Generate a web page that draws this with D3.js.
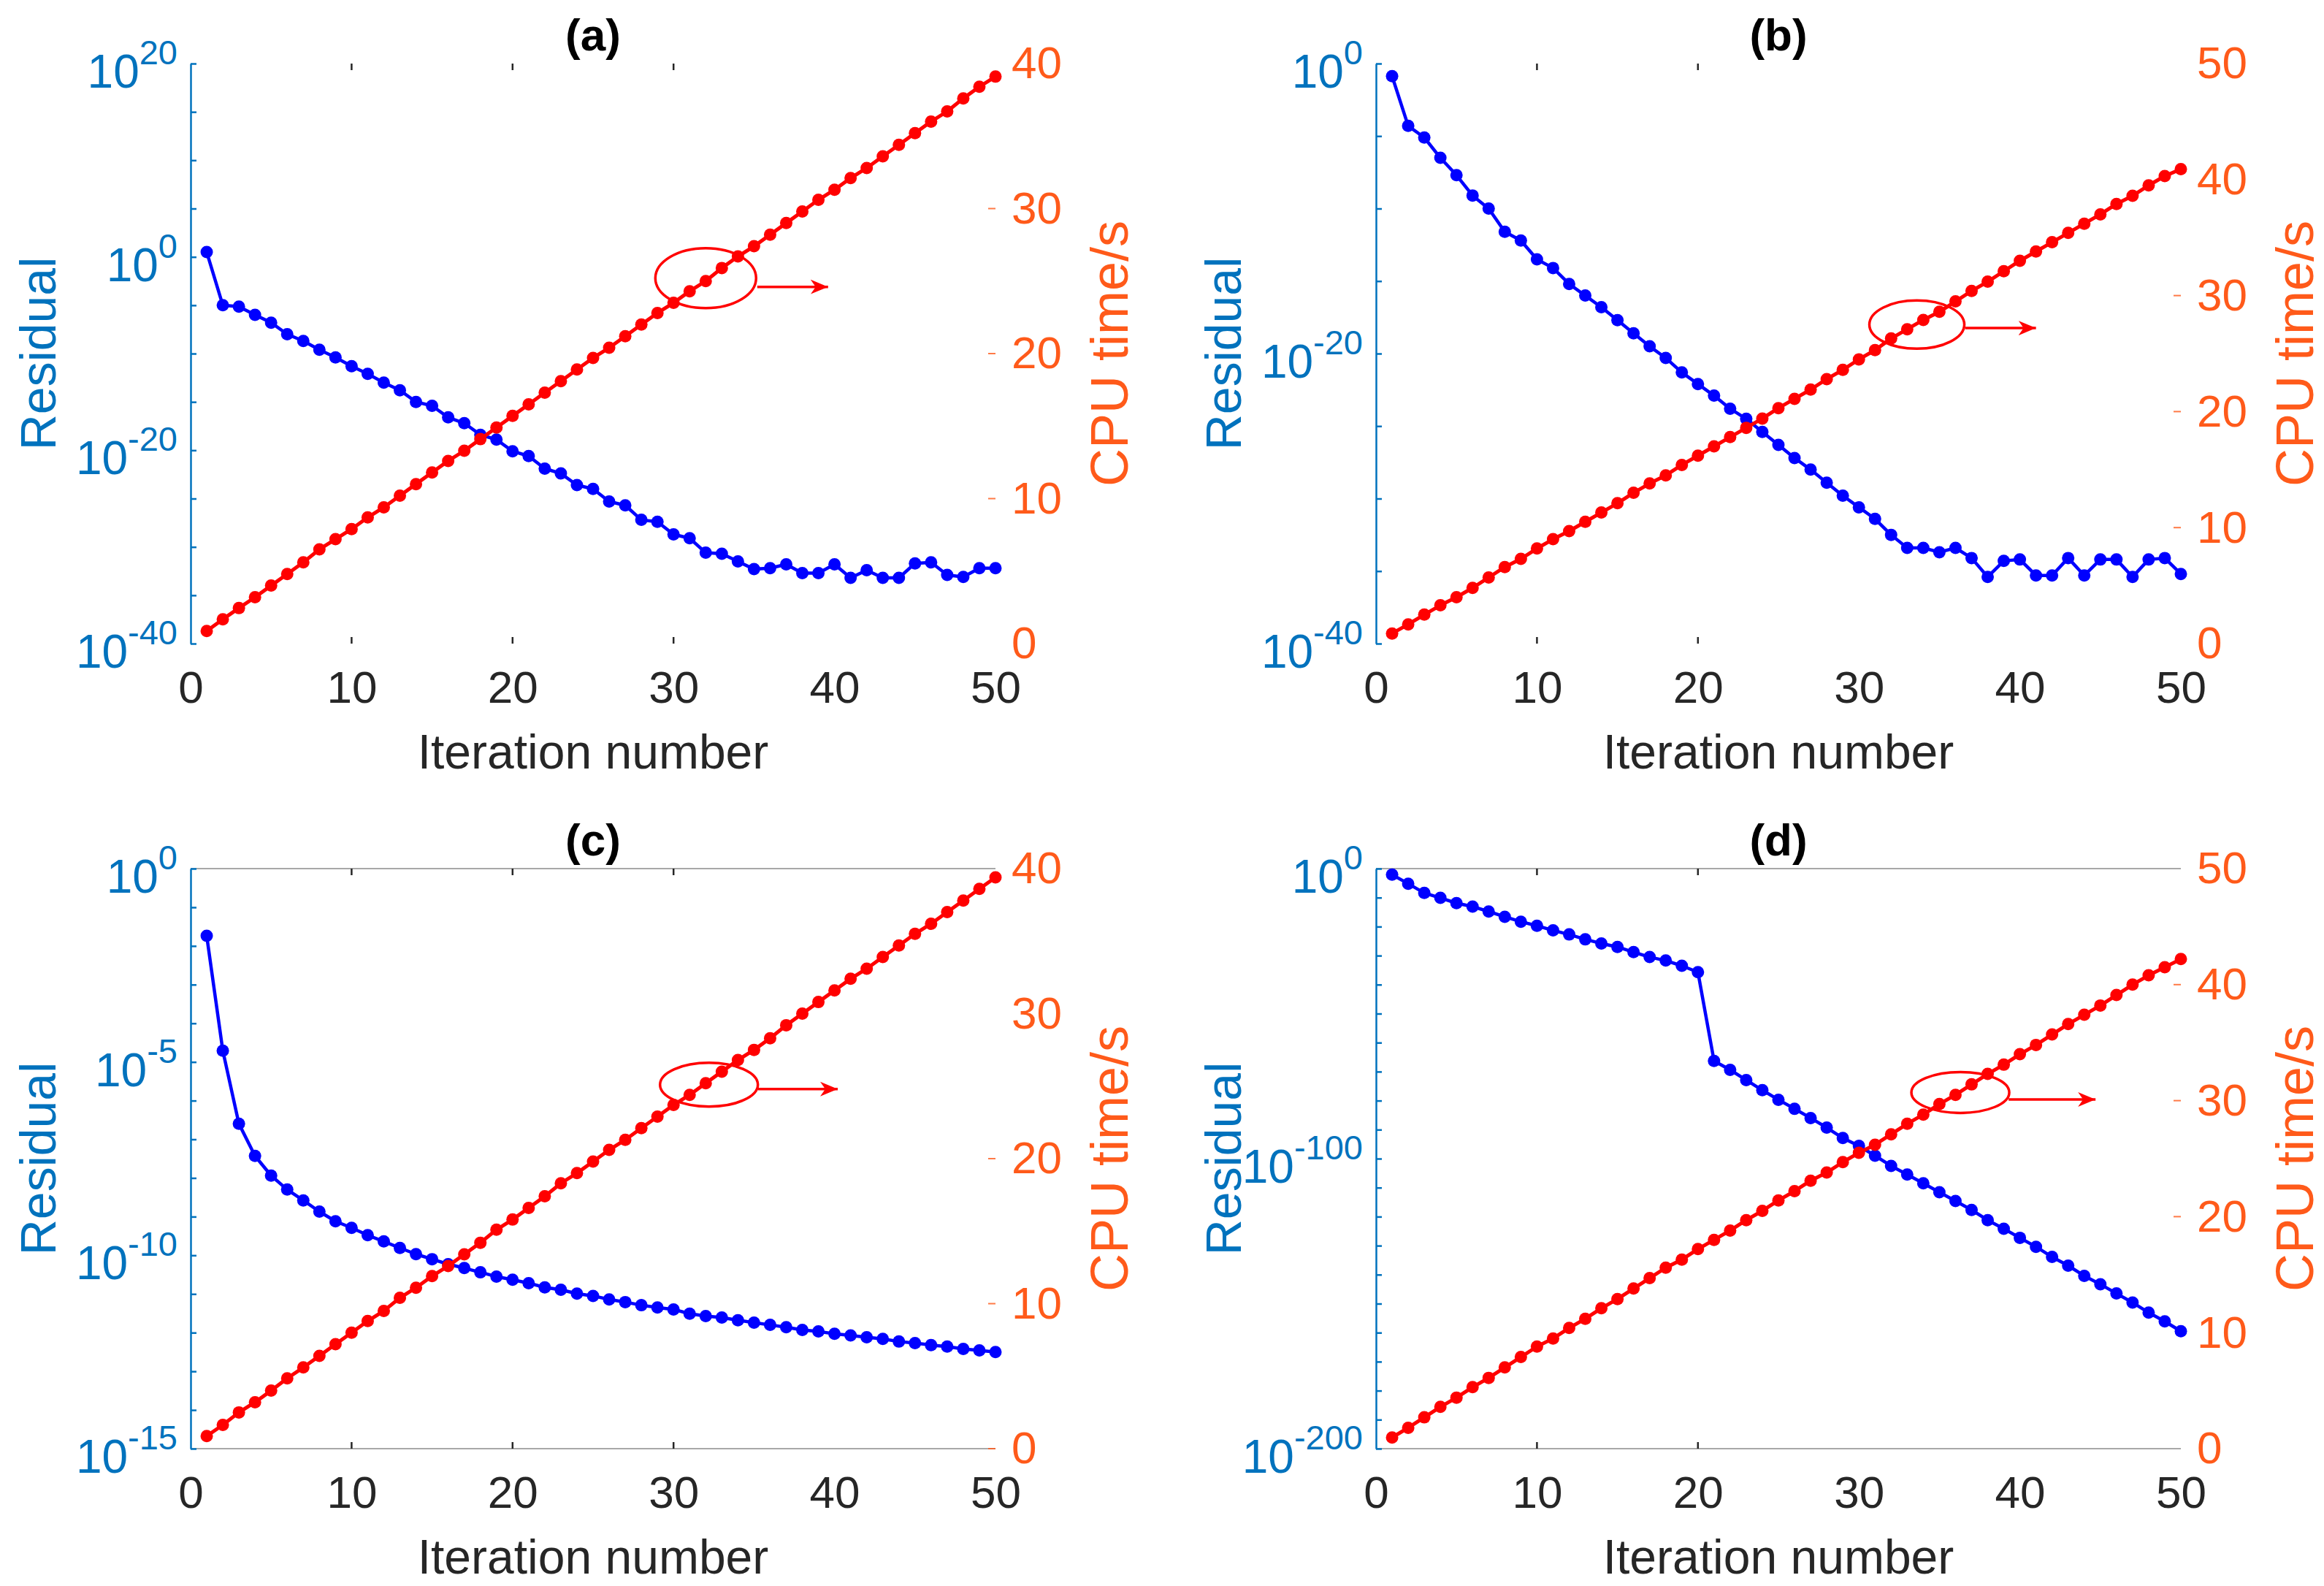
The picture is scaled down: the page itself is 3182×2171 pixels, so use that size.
<!DOCTYPE html>
<html><head><meta charset="utf-8">
<script src="https://cdn.jsdelivr.net/npm/d3@7"></script>
<style>body{margin:0;background:#fff}svg{display:block}text{font-family:"Liberation Sans",Arial,sans-serif}</style>
</head><body>
<svg id="chart" width="3182" height="2171"></svg>
<script>
// ---------------- data ----------------
const iterations = d3.range(1, 51);
const panelTitles = ["(a)", "(b)", "(c)", "(d)"];
const xTickValues = [0, 10, 20, 30, 40, 50];

// residual values, stored as log10 exponents
const residualExpA = [0.5,-5.0,-5.15,-6.0,-6.8,-8.0,-8.7,-9.6,-10.4,-11.3,-12.1,-13.0,-13.8,-15.0,-15.4,-16.6,-17.2,-18.4,-18.9,-20.1,-20.6,-21.9,-22.4,-23.6,-24.0,-25.3,-25.7,-27.2,-27.4,-28.7,-29.1,-30.6,-30.7,-31.5,-32.3,-32.2,-31.8,-32.7,-32.7,-31.8,-33.2,-32.4,-33.2,-33.2,-31.7,-31.6,-32.9,-33.1,-32.2,-32.2];
const residualExpB = [-0.87,-4.3,-5.1,-6.5,-7.7,-9.1,-10.0,-11.6,-12.2,-13.5,-14.1,-15.2,-16.0,-16.8,-17.7,-18.6,-19.5,-20.3,-21.3,-22.1,-22.9,-23.8,-24.5,-25.4,-26.3,-27.2,-28.0,-28.9,-29.8,-30.6,-31.4,-32.5,-33.4,-33.4,-33.7,-33.4,-34.1,-35.4,-34.3,-34.2,-35.3,-35.3,-34.1,-35.3,-34.2,-34.2,-35.4,-34.2,-34.1,-35.2];
const residualExpC = [-1.74,-4.71,-6.60,-7.43,-7.94,-8.30,-8.58,-8.87,-9.12,-9.29,-9.48,-9.64,-9.81,-9.97,-10.10,-10.23,-10.33,-10.44,-10.55,-10.63,-10.72,-10.83,-10.89,-10.99,-11.05,-11.14,-11.21,-11.29,-11.35,-11.40,-11.51,-11.57,-11.61,-11.68,-11.74,-11.80,-11.86,-11.93,-11.97,-12.03,-12.07,-12.12,-12.16,-12.23,-12.27,-12.32,-12.36,-12.42,-12.46,-12.50];
const residualExpD = [-2.1,-5.2,-8.4,-10.1,-11.9,-13.1,-14.8,-16.6,-18.3,-19.7,-21.3,-22.7,-24.4,-25.8,-27.0,-28.8,-30.5,-31.7,-33.5,-35.7,-66.3,-69.4,-72.9,-76.4,-79.7,-82.8,-86.0,-89.3,-92.9,-95.6,-99.0,-102.5,-105.5,-108.5,-111.6,-114.6,-117.7,-121.2,-124.2,-127.3,-130.4,-133.9,-136.9,-140.4,-143.3,-146.5,-149.6,-153.1,-156.1,-159.5];

// CPU time (s)
const cpuA = [0.87,1.68,2.45,3.2,4.0,4.8,5.6,6.5,7.2,7.9,8.7,9.4,10.2,11.0,11.8,12.6,13.3,14.1,14.9,15.7,16.5,17.3,18.1,18.9,19.7,20.4,21.2,22.0,22.8,23.5,24.3,25.0,25.9,26.7,27.4,28.2,29.0,29.8,30.6,31.3,32.1,32.8,33.6,34.4,35.2,36.0,36.7,37.6,38.4,39.1];
const cpuB = [0.87,1.66,2.5,3.3,4.0,4.8,5.7,6.6,7.3,8.2,9.0,9.7,10.5,11.3,12.1,13.0,13.8,14.5,15.4,16.2,17.0,17.8,18.6,19.4,20.3,21.1,21.9,22.8,23.6,24.5,25.3,26.3,27.1,27.9,28.6,29.5,30.4,31.2,32.1,33.0,33.8,34.6,35.4,36.2,37.0,37.9,38.6,39.5,40.3,40.9];
const cpuC = [0.87,1.64,2.5,3.2,4.0,4.85,5.6,6.4,7.2,8.0,8.8,9.5,10.4,11.1,11.9,12.6,13.4,14.2,15.1,15.8,16.6,17.4,18.3,19.0,19.8,20.6,21.3,22.1,22.9,23.7,24.4,25.2,26.0,26.8,27.5,28.3,29.2,30.0,30.8,31.6,32.4,33.1,33.9,34.7,35.5,36.2,37.0,37.8,38.6,39.4];
const cpuD = [0.96,1.8,2.7,3.6,4.4,5.3,6.1,7.0,7.9,8.8,9.5,10.4,11.2,12.1,12.9,13.8,14.7,15.6,16.3,17.2,18.0,18.8,19.7,20.5,21.4,22.2,23.1,23.8,24.7,25.5,26.2,27.1,28.0,28.8,29.7,30.5,31.4,32.3,33.1,34.0,34.8,35.7,36.6,37.4,38.2,39.1,40.0,40.8,41.5,42.2];

// left (log) axis ranges as exponents: [min, max], minor step, labelled exponents
const leftExpRanges = [[-40, 20], [-40, 0], [-15, 0], [-200, 0]];
const leftExpSteps = [5, 5, 1, 10];
const leftExpLabels = [[20, 0, -20, -40], [0, -20, -40], [0, -5, -10, -15], [0, -100, -200]];
// right axis maxima and tick labels
const rightMax = [40, 50, 40, 50];
const rightTickLabels = [[0,10,20,30,40],[0,10,20,30,40,50],[0,10,20,30,40],[0,10,20,30,40,50]];
const rightTickMarks = [[10,20,30],[10,20,30],[0,10,20],[20,30,40]];
const xTickMarks = [[10,20,30],[10,20],[10,20,30],[10,20]];
const showFrame = [false, false, true, true];
// annotation ellipse (in x / CPU units): cx, cy, rx, ry, arrow x1, arrow x2, arrow y
const ellipseNotes = [
  [32.0, 25.2, 3.13, 2.07, 35.2, 39.6, 24.6],
  [33.6, 27.5, 2.95, 2.08, 36.6, 41.0, 27.2],
  [32.2, 25.1, 3.04, 1.51, 35.25, 40.2, 24.8],
  [36.3, 30.7, 3.04, 1.76, 39.3, 44.7, 30.1]
];

const residualSeries = [residualExpA, residualExpB, residualExpC, residualExpD];
const cpuSeries = [cpuA, cpuB, cpuC, cpuD];

// ---------------- layout / style ----------------
const BLUE_AX = "#0072BD", ORANGE = "#FF5A1A", TICK_DARK = "#262626";
const W = 1102, H = 794;
const origins = [[261, 87], [1884, 87], [261, 1189], [1884, 1189]];

const svg = d3.select("#chart");
svg.append("rect").attr("width", 3182).attr("height", 2171).attr("fill", "#fff");

const defs = svg.append("defs");
defs.append("marker").attr("id", "arrowHead").attr("viewBox", "-24 -12 26 24")
  .attr("markerWidth", 26).attr("markerHeight", 24).attr("markerUnits", "userSpaceOnUse")
  .attr("refX", 0).attr("refY", 0).attr("orient", "auto")
  .append("path").attr("d", "M0,0 L-24,-10 L-17,0 L-24,10 Z").attr("fill", "#FF0000");

panelTitles.forEach((title, k) => {
  const [x0, y0] = origins[k];
  const g = svg.append("g");
  const x = d3.scaleLinear().domain([0, 50]).range([x0, x0 + W]);
  const [emin, emax] = leftExpRanges[k];
  const yL = d3.scaleLog().domain([Math.pow(10, emin), Math.pow(10, emax)]).range([y0 + H, y0]);
  const yR = d3.scaleLinear().domain([0, rightMax[k]]).range([y0 + H, y0]);

  if (showFrame[k]) {
    [y0, y0 + H].forEach(yy => g.append("line").attr("x1", x0).attr("x2", x0 + W)
      .attr("y1", yy).attr("y2", yy).attr("stroke", "#A8A8A8").attr("stroke-width", 2));
  }

  xTickMarks[k].forEach(v => {
    g.append("line").attr("x1", x(v)).attr("x2", x(v)).attr("y1", y0).attr("y2", y0 + 9)
      .attr("stroke", TICK_DARK).attr("stroke-width", 2.5);
    g.append("line").attr("x1", x(v)).attr("x2", x(v)).attr("y1", y0 + H).attr("y2", y0 + H - 9)
      .attr("stroke", TICK_DARK).attr("stroke-width", 2.5);
  });

  const xAx = g.append("g").attr("transform", `translate(0,${y0 + H})`)
    .call(d3.axisBottom(x).tickValues(xTickValues).tickSize(0).tickPadding(37).tickFormat(d3.format("d")));
  xAx.select(".domain").remove();
  xAx.selectAll("text").attr("font-size", 62).attr("fill", TICK_DARK)
    .attr("font-family", '"Liberation Sans", Arial, sans-serif');

  const minorTicks = d3.range(emin, emax + 0.001, leftExpSteps[k]).map(e => Math.pow(10, e));
  const lAx = g.append("g").attr("transform", `translate(${x0},0)`)
    .call(d3.axisLeft(yL).tickValues(minorTicks).tickSize(-8).tickSizeOuter(0).tickFormat(""));
  lAx.select(".domain").attr("stroke", BLUE_AX).attr("stroke-width", 2.5);
  lAx.selectAll(".tick line").attr("stroke", BLUE_AX).attr("stroke-width", 2.5);

  leftExpLabels[k].forEach(e => {
    const t = g.append("text").attr("x", x0 - 18).attr("y", yL(Math.pow(10, e)) + 33)
      .attr("text-anchor", "end").attr("fill", BLUE_AX).attr("font-size", 64);
    t.append("tspan").text("10");
    t.append("tspan").attr("dy", -32).attr("font-size", 47).text(String(e));
  });

  const rAx = g.append("g").attr("transform", `translate(${x0 + W},0)`)
    .call(d3.axisRight(yR).tickValues(rightTickLabels[k]).tickSize(0).tickPadding(22));
  rAx.select(".domain").remove();
  rAx.selectAll("text").attr("font-size", 62).attr("fill", ORANGE)
    .attr("font-family", '"Liberation Sans", Arial, sans-serif');
  rightTickMarks[k].forEach(v => g.append("line").attr("x1", x0 + W - 10).attr("x2", x0 + W)
    .attr("y1", yR(v)).attr("y2", yR(v)).attr("stroke", ORANGE).attr("stroke-width", 2).attr("opacity", 0.8));

  const resData = iterations.map((it, i) => ({ it, v: Math.pow(10, residualSeries[k][i]) }));
  const lineL = d3.line().x(d => x(d.it)).y(d => yL(d.v));
  g.append("path").datum(resData).attr("d", lineL).attr("fill", "none")
    .attr("stroke", "#0000FF").attr("stroke-width", 4.5).attr("stroke-linejoin", "round");
  g.selectAll(null).data(resData).enter().append("circle")
    .attr("cx", d => x(d.it)).attr("cy", d => yL(d.v)).attr("r", 8.5).attr("fill", "#0000FF");

  const cpuData = iterations.map((it, i) => ({ it, v: cpuSeries[k][i] }));
  const lineR = d3.line().x(d => x(d.it)).y(d => yR(d.v));
  g.append("path").datum(cpuData).attr("d", lineR).attr("fill", "none")
    .attr("stroke", "#FF0000").attr("stroke-width", 5).attr("stroke-linejoin", "round");
  g.selectAll(null).data(cpuData).enter().append("circle")
    .attr("cx", d => x(d.it)).attr("cy", d => yR(d.v)).attr("r", 8.5).attr("fill", "#FF0000");

  const [cx, cy, rx, ry, ax1, ax2, ay] = ellipseNotes[k];
  g.append("ellipse").attr("cx", x(cx)).attr("cy", yR(cy))
    .attr("rx", x(rx) - x(0)).attr("ry", yR(0) - yR(ry))
    .attr("fill", "none").attr("stroke", "#FF0000").attr("stroke-width", 3.5);
  g.append("line").attr("x1", x(ax1)).attr("x2", x(ax2)).attr("y1", yR(ay)).attr("y2", yR(ay))
    .attr("stroke", "#FF0000").attr("stroke-width", 3.5).attr("marker-end", "url(#arrowHead)");

  g.append("text").attr("x", x0 + W / 2).attr("y", y0 - 18).attr("text-anchor", "middle")
    .attr("font-size", 62).attr("font-weight", "bold").attr("fill", "#000").text(title);
  g.append("text").attr("x", x0 + W / 2).attr("y", y0 + H + 171).attr("text-anchor", "middle")
    .attr("font-size", 66).attr("fill", TICK_DARK).text("Iteration number");
  g.append("text").attr("transform", `translate(${x0 - 185},${y0 + H / 2}) rotate(-90)`)
    .attr("text-anchor", "middle").attr("font-size", 68).attr("fill", BLUE_AX).text("Residual");
  g.append("text").attr("transform", `translate(${x0 + W + 181},${y0 + H / 2}) rotate(-90)`)
    .attr("text-anchor", "middle").attr("font-size", 72).attr("fill", ORANGE).text("CPU time/s");
});
</script>
</body></html>
